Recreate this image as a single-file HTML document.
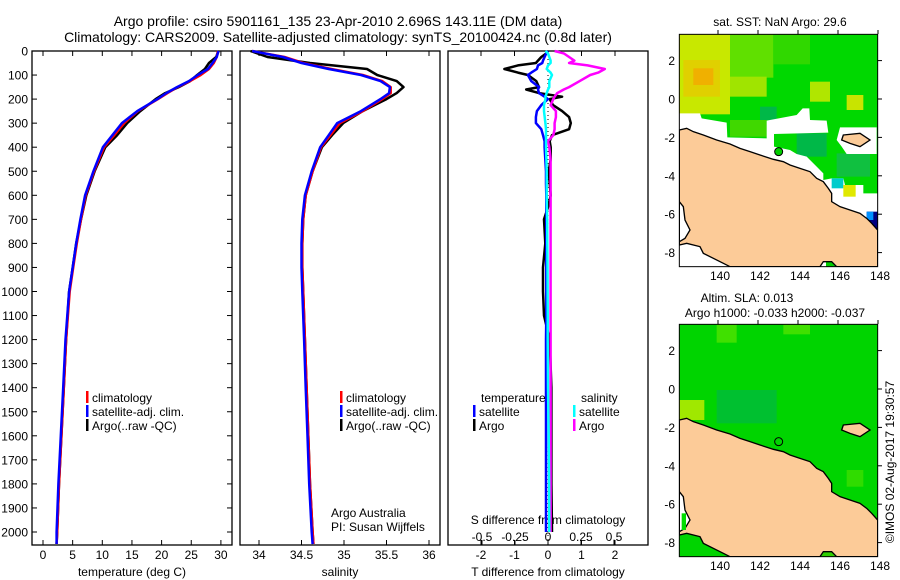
<!DOCTYPE html>
<html><head><meta charset="utf-8">
<style>
html,body{margin:0;padding:0;background:#fff;}
svg{display:block;font-family:"Liberation Sans",sans-serif;}
text{fill:#000;}
</style></head>
<body>
<svg id="fig" width="900" height="580" viewBox="0 0 900 580" xmlns="http://www.w3.org/2000/svg">
<text x="338" y="26" font-size="14" text-anchor="middle">Argo profile: csiro 5901161_135 23-Apr-2010 2.696S 143.11E (DM data)</text>
<text x="338" y="42" font-size="14" text-anchor="middle">Climatology: CARS2009. Satellite-adjusted climatology: synTS_20100424.nc (0.8d later)</text>
<g id="plots"></g>

<!-- top map -->
<g>
<text x="780" y="26" font-size="12" text-anchor="middle">sat. SST: NaN Argo: 29.6</text>
<g transform="translate(650,0) scale(0.33333)">
<clipPath id="c1"><rect x="88" y="103" width="595" height="697"/></clipPath>
<g clip-path="url(#c1)">
<rect x="88" y="103" width="595" height="697" fill="#00d800"/>
<rect x="240" y="103" width="130" height="130" fill="#60e000"/>
<rect x="370" y="103" width="110" height="90" fill="#30d800"/>
<rect x="88" y="103" width="152" height="240" fill="#c8e800"/>
<rect x="100" y="180" width="110" height="110" fill="#e0d000"/>
<rect x="130" y="205" width="60" height="50" fill="#f0b000"/>
<rect x="240" y="230" width="110" height="60" fill="#a0e400"/>
<rect x="480" y="245" width="60" height="60" fill="#b0e600"/>
<rect x="590" y="285" width="50" height="45" fill="#c8e400"/>
<rect x="330" y="320" width="50" height="40" fill="#00b848"/>
<rect x="440" y="400" width="90" height="70" fill="#00b848"/>
<rect x="560" y="460" width="100" height="70" fill="#10c040"/>
<rect x="240" y="360" width="110" height="50" fill="#40d800"/>
<polygon fill="#fff" points="88,340 150,340 155,355 230,368 232,412 350,415 350,362 440,345 458,325 478,325 480,360 530,362 535,398 372,402 372,440 420,450 440,462 470,470 500,500 520,520 520,540 545,535 580,535 585,555 640,555 640,580 683,580 683,800 88,800"/>
<polygon fill="#fff" points="570,382 680,382 680,462 590,462 575,440 560,420"/>
<rect x="545" y="535" width="35" height="30" fill="#00cccc"/>
<rect x="580" y="555" width="37" height="35" fill="#e0e800"/>
<rect x="650" y="635" width="33" height="75" fill="#000080"/>
<rect x="650" y="635" width="20" height="25" fill="#0090ff"/>
<rect x="528" y="785" width="32" height="15" fill="#00cc00"/>
<polygon fill="#fccb98" stroke="#000" stroke-width="4" points="88,390 110,385 130,395 160,405 200,420 240,432 270,445 300,455 330,465 370,478 400,485 420,495 450,505 480,515 500,535 520,545 535,565 545,580 545,605 570,620 600,630 630,640 650,655 665,670 683,690 683,800 560,800 545,785 520,785 510,800 240,800 220,790 160,760 150,740 110,730 88,735"/>
<polygon fill="#fff" stroke="#000" stroke-width="4" points="88,605 100,620 105,660 120,690 105,715 88,725"/>
<polygon fill="#fccb98" stroke="#000" stroke-width="4" points="580,405 630,400 660,420 630,440 600,430 575,420"/>
<circle cx="386" cy="455" r="12" fill="#00cc00" stroke="#000" stroke-width="3"/>
</g>
<rect x="88" y="103" width="595" height="697" fill="none" stroke="#000" stroke-width="3"/>
</g>
</g>

<!-- bottom map -->
<g>
<text x="747" y="302" font-size="12" text-anchor="middle">Altim. SLA: 0.013</text>
<text x="775" y="317" font-size="12" text-anchor="middle">Argo h1000: -0.033 h2000: -0.037</text>
<g transform="translate(650,290) scale(0.33333)">
<clipPath id="c2"><rect x="88" y="103" width="595" height="697"/></clipPath>
<g clip-path="url(#c2)">
<rect x="88" y="103" width="595" height="697" fill="#00d400"/>
<rect x="200" y="103" width="60" height="55" fill="#40e000"/>
<rect x="400" y="103" width="80" height="30" fill="#40e000"/>
<rect x="200" y="300" width="180" height="100" fill="#00c030"/>
<rect x="88" y="330" width="75" height="60" fill="#a0e800"/>
<rect x="590" y="540" width="50" height="50" fill="#30dc00"/>
<rect x="420" y="740" width="140" height="60" fill="#30d000"/>
<polygon fill="#fccb98" stroke="#000" stroke-width="4" points="88,390 110,385 130,395 160,405 200,420 240,432 270,445 300,455 330,465 370,478 400,485 420,495 450,505 480,515 500,535 520,545 535,565 545,580 545,605 570,620 600,630 630,640 650,655 665,670 683,690 683,800 560,800 545,785 520,785 510,800 240,800 220,790 160,760 150,740 110,730 88,735"/>
<polygon fill="#fff" stroke="#000" stroke-width="4" points="88,605 100,620 105,660 120,690 105,715 88,725"/>
<rect x="95" y="670" width="13" height="50" fill="#00dd00"/>
<polygon fill="#fccb98" stroke="#000" stroke-width="4" points="580,405 630,400 660,420 630,440 600,430 575,420"/>
<circle cx="386" cy="455" r="12" fill="none" stroke="#000" stroke-width="3"/>
</g>
<rect x="88" y="103" width="595" height="697" fill="none" stroke="#000" stroke-width="3"/>
</g>
</g>
<text transform="translate(894,462) rotate(-90)" font-size="12" text-anchor="middle">©IMOS 02-Aug-2017 19:30:57</text>
</svg>
<script>
// ---- data ----
const depthProf = [0,25,50,75,100,125,150,175,200,250,300,350,400,500,600,700,800,900,1000,1200,1400,1600,1800,2000,2050];
const tempClim = [29.5,29.3,28.8,28.0,26.6,24.8,22.7,21.0,19.4,16.0,13.7,12.0,10.3,8.6,7.2,6.4,5.7,5.1,4.5,3.9,3.5,3.1,2.7,2.4,2.3];
const tempSat  = [29.6,29.3,28.6,27.8,26.1,24.6,22.6,20.8,19.3,15.9,13.3,11.7,10.1,8.5,7.1,6.3,5.6,5.0,4.4,3.8,3.4,3.0,2.6,2.3,2.3];
const tempArgo = [29.6,29.2,28.0,27.3,26.0,24.8,22.9,20.6,19.0,16.4,14.2,12.5,10.5,8.7,7.3,6.4,5.6,5.0,4.4,3.9,3.5,3.1,2.7,2.4,2.3];
const salClim = [33.92,34.3,34.52,34.85,35.22,35.45,35.55,35.55,35.45,35.22,34.95,34.84,34.73,34.63,34.55,34.52,34.51,34.51,34.52,34.54,34.56,34.58,34.6,34.63,34.64];
const salSat  = [33.92,34.28,34.5,34.82,35.2,35.43,35.54,35.53,35.43,35.2,34.92,34.82,34.72,34.62,34.54,34.51,34.5,34.5,34.51,34.53,34.55,34.57,34.59,34.62,34.63];
const salArgo = [33.9,34.1,34.6,35.27,35.39,35.62,35.7,35.62,35.5,35.22,34.99,34.86,34.74,34.63,34.55,34.52,34.51,34.51,34.52,34.54,34.56,34.58,34.6,34.63,34.64];
const depthDiff = [0,10,25,40,50,60,75,90,100,125,150,160,175,190,200,225,250,275,300,325,350,375,400,450,500,550,600,650,700,800,900,1000,1100,1200,1400,1600,1800,2000];
const tDiffArgo = [0,-0.05,-0.2,-0.3,-0.36,-0.9,-1.3,-0.9,-0.6,-0.35,-0.27,-0.65,-0.27,0.42,0.05,0.15,0.42,0.63,0.68,0.63,0.12,0.05,0.08,0.08,0.02,0.05,0.08,0,-0.12,-0.08,-0.15,-0.15,-0.12,0.05,0.1,0.1,0.1,0.12];
const tDiffSat  = [0,-0.05,-0.1,-0.15,-0.17,-0.3,-0.33,-0.5,-0.6,-0.5,-0.27,-0.3,-0.27,-0.1,0,-0.2,-0.33,-0.36,-0.36,-0.2,-0.15,-0.1,-0.1,-0.08,-0.06,-0.06,-0.05,-0.05,-0.05,-0.05,-0.05,-0.05,-0.05,-0.06,-0.06,-0.06,-0.06,-0.06];
const sDiffArgo = [0.05,0.12,0.16,0.2,0.16,0.3,0.43,0.38,0.32,0.24,0.16,0.12,0.07,0.05,0.04,0.02,0.06,0.06,0.05,0.05,0.04,0.0,0.01,0.02,0.02,0.02,0.02,0.02,0.02,0.02,0.02,0.02,0.02,0.02,0.02,0.02,0.02,0.02];
const sDiffSat  = [-0.02,0,0.01,0.02,0.02,0,-0.01,0.02,0.03,0.01,0.01,0,-0.01,-0.02,-0.02,-0.03,-0.03,-0.025,-0.02,-0.015,-0.015,-0.015,-0.015,-0.012,-0.01,-0.01,-0.01,-0.008,-0.006,-0.005,-0.004,-0.003,-0.002,-0.002,0,0.005,0.008,0.01];
const depthTicks = [0,100,200,300,400,500,600,700,800,900,1000,1100,1200,1300,1400,1500,1600,1700,1800,1900,2000];
const tempTicks = [0,5,10,15,20,25,30];
const salTicks = [34,34.5,35,35.5,36];
const tDiffTicks = [-2,-1,0,1,2];
const sDiffTicks = [-0.5,-0.25,0,0.25,0.5];
const latTicks = [2,0,-2,-4,-6,-8];
const lonTicks = [140,142,144,146,148];

// ---- axes ----
const NS = 'http://www.w3.org/2000/svg';
const g = document.getElementById('plots');
const yD = d => 51 + d * 0.2405;
const xT = t => 43 + t * 5.93;
const xS = s => 259 + (s - 34) * 85;
const xTD = v => 548 + v * 33.5;
const xSD = v => 548 + v * 132;
const mapLatTop = la => 99 - la * 19.2;
const mapLatBot = la => 389 - la * 19.2;
const mapLon = lo => 718 + (lo - 140) * 20;

function mk(tag, attrs, parent) {
  const e = document.createElementNS(NS, tag);
  for (const k in attrs) e.setAttribute(k, attrs[k]);
  (parent || g).appendChild(e);
  return e;
}
function txt(x, y, s, size, anchor) {
  const t = mk('text', {x: x, y: y, 'font-size': size || 12, 'text-anchor': anchor || 'middle'});
  t.textContent = s;
  return t;
}
function line(xs, ys, color, name) {
  const pts = xs.map((v, i) => v.toFixed(1) + ',' + ys[i].toFixed(1)).join(' ');
  const p = mk('polyline', {points: pts, fill: 'none', stroke: color, 'stroke-width': 2.5, 'stroke-linejoin': 'round'});
  
  
  return p;
}

const panels = [[32, 232], [240, 440], [448, 648]];
const pTop = 51, pBot = 545;
panels.forEach((p, i) => {
  const r = mk('rect', {x: p[0], y: pTop, width: p[1] - p[0], height: pBot - pTop, fill: 'none', stroke: '#000', 'stroke-width': 1.3});
  
  
});
// depth ticks
depthTicks.forEach(d => {
  const y = yD(d);
  mk('line', {x1: 32, x2: 37, y1: y, y2: y, stroke: '#000'});
  mk('line', {x1: 227, x2: 232, y1: y, y2: y, stroke: '#000'});
  const t = txt(28, y + 4.5, String(d), 12, 'end');
  
  
});
function xticks(vals, fn, labelY) {
  vals.forEach(v => {
    const x = fn(v);
    mk('line', {x1: x, x2: x, y1: pTop, y2: pTop + 5, stroke: '#000'});
    mk('line', {x1: x, x2: x, y1: pBot - 5, y2: pBot, stroke: '#000'});
    const t = txt(x, labelY, String(v), 12);
    
    
  });
}
xticks(tempTicks, xT, 559);
xticks(salTicks, xS, 559);
xticks(tDiffTicks, xTD, 559);
sDiffTicks.forEach(v => {
  const x = xSD(v);
  mk('line', {x1: x, x2: x, y1: pBot - 5, y2: pBot, stroke: '#000'});
  const t = txt(x, 541, String(v), 12);
  
  
});
let at;
at = txt(132, 576, 'temperature (deg C)', 12);


at = txt(340, 576, 'salinity', 12);


at = txt(548, 576, 'T difference from climatology', 12);


at = txt(548, 524, 'S difference from climatology', 12);


at = txt(331, 517, 'Argo Australia', 12, 'start');


at = txt(331, 531, 'PI: Susan Wijffels', 12, 'start');



// zero dotted line
const zl = mk('line', {x1: xTD(0), x2: xTD(0), y1: pTop, y2: pBot, stroke: '#000', 'stroke-dasharray': '1,3'});



const yP = depthProf.map(yD), yDf = depthDiff.map(yD);
line(tempArgo.map(xT), yP, '#000', 'temp-argo-line');
line(tempClim.map(xT), yP, '#f00', 'temp-climatology-line');
line(tempSat.map(xT), yP, '#0000ff', 'temp-satellite-line');
line(salArgo.map(xS), yP, '#000', 'sal-argo-line');
line(salClim.map(xS), yP, '#f00', 'sal-climatology-line');
line(salSat.map(xS), yP, '#0000ff', 'sal-satellite-line');
line(tDiffArgo.map(xTD), yDf, '#000', 't-diff-argo-line');
line(sDiffArgo.map(xSD), yDf, '#ff00ff', 's-diff-argo-line');
line(tDiffSat.map(xTD), yDf, '#0000ff', 't-diff-satellite-line');
line(sDiffSat.map(xSD), yDf, '#00ffff', 's-diff-satellite-line');

// legends
function legend(x, y, color, label, name) {
  if (color) mk('rect', {x: x, y: y - 11, width: 2.5, height: 12, fill: color});
  const t = txt(x + 6, y, label, 12, 'start');
  
  
}
legend(86, 402, '#f00', 'climatology', 'legend-climatology');
legend(86, 416, '#0000ff', 'satellite-adj. clim.', 'legend-satellite-adj');
legend(86, 430, '#000', 'Argo(..raw -QC)', 'legend-argo');
legend(340, 402, '#f00', 'climatology', 'legend-climatology-sal');
legend(340, 416, '#0000ff', 'satellite-adj. clim.', 'legend-satellite-adj-sal');
legend(340, 430, '#000', 'Argo(..raw -QC)', 'legend-argo-sal');
legend(475, 402, null, 'temperature', 'legend-temperature-heading');
legend(473, 416, '#0000ff', 'satellite', 'legend-t-satellite');
legend(473, 430, '#000', 'Argo', 'legend-t-argo');
legend(575, 402, null, 'salinity', 'legend-salinity-heading');
legend(573, 416, '#00ffff', 'satellite', 'legend-s-satellite');
legend(573, 430, '#ff00ff', 'Argo', 'legend-s-argo');

// map ticks
[[mapLatTop, 34, 267, 280], [mapLatBot, 324, 557, 570]].forEach(m => {
  latTicks.forEach(la => {
    const y = m[0](la);
    if (y < m[1] || y > m[2]) return;
    mk('line', {x1: 878, x2: 882, y1: y, y2: y, stroke: '#000'});
    const t = txt(675, y + 4.5, String(la), 12, 'end');
    
    
  });
  lonTicks.forEach(lo => {
    const x = mapLon(lo);
    mk('line', {x1: x, x2: x, y1: m[1] - 4, y2: m[1], stroke: '#000'});
    const t = txt(x + 2, m[3], String(lo), 12);
    
    
  });
});
</script>
</body></html>
